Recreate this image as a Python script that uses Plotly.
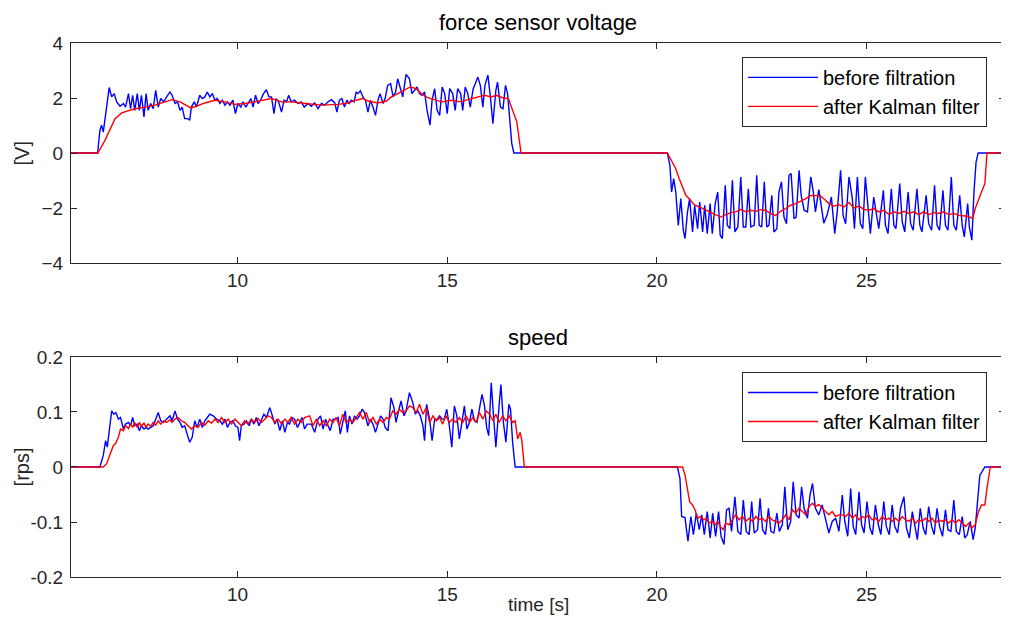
import plotly.graph_objects as go
from plotly.subplots import make_subplots

# ---------------- data ----------------
force_raw_t = [6.03, 6.665, 6.72, 6.76, 6.80, 6.855, 6.94, 7.0, 7.06, 7.12, 7.2, 7.28, 7.33, 7.4, 7.45, 7.5, 7.55, 7.61, 7.66, 7.71, 7.77, 7.82, 7.87, 7.93, 7.99, 8.05, 8.11, 8.17, 8.24, 8.31, 8.39, 8.44, 8.51, 8.57, 8.63, 8.68, 8.74, 8.81, 8.86, 8.90, 8.97, 9.02, 9.10, 9.16, 9.22, 9.28, 9.34, 9.40, 9.46, 9.52, 9.58, 9.64, 9.70, 9.76, 9.82, 9.89, 9.95, 10.01, 10.08, 10.13, 10.20, 10.25, 10.32, 10.37, 10.43, 10.49, 10.55, 10.62, 10.69, 10.75, 10.81, 10.87, 10.92, 10.98, 11.05, 11.11, 11.17, 11.22, 11.28, 11.36, 11.44, 11.52, 11.59,
               11.68, 11.76, 11.84, 11.92, 12.0, 12.08, 12.16, 12.24, 12.32, 12.37, 12.43, 12.49, 12.55, 12.61, 12.66, 12.71, 12.78, 12.83, 12.87, 12.93, 12.99, 13.05, 13.11, 13.17, 13.23, 13.29, 13.35, 13.40, 13.47, 13.52, 13.58, 13.65, 13.71, 13.77, 13.82, 13.89, 13.94, 14.02, 14.10, 14.16, 14.22, 14.28, 14.34, 14.40, 14.46, 14.52, 14.59, 14.64, 14.70, 14.76, 14.82, 14.88, 14.94, 15.0, 15.06, 15.13, 15.19, 15.25, 15.32, 15.37, 15.43, 15.49, 15.55, 15.62, 15.67, 15.73, 15.79, 15.85, 15.90, 15.97, 16.03, 16.09, 16.16, 16.20, 16.27, 16.33, 16.39, 16.44, 16.48, 16.54, 16.59,
               20.25, 20.31, 20.35, 20.4, 20.45, 20.51, 20.57, 20.63, 20.67, 20.73, 20.78, 20.85, 20.90, 20.97, 21.02, 21.09, 21.14, 21.20, 21.27, 21.32, 21.39, 21.45, 21.51, 21.56, 21.63, 21.68, 21.74, 21.80, 21.86, 21.93, 22.0, 22.06, 22.12, 22.18, 22.24, 22.32, 22.38, 22.44, 22.50, 22.56, 22.62, 22.67, 22.74, 22.79, 22.86, 22.91, 22.97, 23.03, 23.09, 23.15, 23.20, 23.27, 23.32, 23.39, 23.44, 23.51, 23.59, 23.67, 23.73, 23.78, 23.86, 23.98, 24.06, 24.16, 24.24, 24.30, 24.38, 24.44, 24.50, 24.58, 24.66, 24.71, 24.78, 24.85, 24.91, 24.97, 25.04, 25.09, 25.17, 25.23, 25.29, 25.40, 25.45, 25.51, 25.59, 25.65, 25.70, 25.79, 25.85, 25.91, 25.99, 26.05, 26.11, 26.20, 26.27, 26.32, 26.42, 26.48, 26.55, 26.62, 26.68, 26.74, 26.82, 26.88, 26.94, 27.02, 27.08, 27.14, 27.22, 27.28, 27.33, 27.41, 27.45, 27.51, 27.56, 27.61, 27.66, 28.3]
force_raw_v = [0, 0, 0.83, 1.01, 0.76, 1.43, 2.38, 2.04, 2.16, 1.86, 1.70, 1.80, 1.67, 2.16, 1.61, 2.10, 1.55, 2.16, 1.55, 2.10, 1.31, 2.16, 1.55, 1.80, 1.61, 2.28, 1.67, 1.98, 1.86, 2.04, 2.22, 2.10, 1.80, 1.86, 1.55, 1.67, 1.25, 1.25, 1.19, 1.67, 1.86, 1.67, 2.10, 1.98, 2.04, 2.22, 2.04, 2.16, 1.92, 1.98, 1.80, 1.92, 1.74, 1.86, 1.74, 1.92, 1.43, 1.80, 1.67, 1.86, 1.67, 1.80, 1.98, 1.67, 2.10, 1.80, 1.92, 2.16, 2.30, 2.04, 2.04, 1.43, 1.98, 1.86, 1.49, 1.92, 1.86, 2.10, 1.86, 1.92, 1.80, 1.86, 1.67,
               1.80, 1.70, 1.82, 1.61, 1.80, 1.74, 1.86, 1.94, 1.82, 1.49, 1.92, 1.98, 1.67, 1.92, 1.80, 1.92, 1.86, 2.22, 2.16, 2.26, 2.04, 1.92, 1.49, 1.92, 1.67, 1.37, 1.92, 2.16, 1.80, 1.98, 2.46, 2.52, 2.04, 2.22, 2.70, 2.34, 2.04, 2.86, 2.70, 2.16, 2.28, 2.40, 2.16, 2.10, 2.22, 1.55, 1.01, 1.92, 2.34, 1.55, 1.37, 2.40, 2.16, 1.43, 2.34, 2.16, 1.55, 2.34, 2.16, 1.55, 2.40, 2.16, 1.67, 2.34, 2.52, 2.76, 2.46, 1.67, 2.46, 2.83, 2.04, 1.07, 2.28, 2.58, 1.67, 1.61, 2.46, 2.16, 1.43, 0.34, 0,
               0, -0.45, -1.42, -0.93, -1.42, -2.63, -1.66, -2.81, -3.11, -2.14, -1.66, -2.87, -1.90, -2.75, -1.78, -2.87, -1.90, -2.93, -1.84, -2.93, -1.84, -1.42, -2.99, -3.11, -1.17, -2.63, -2.75, -0.99, -2.87, -2.69, -0.87, -2.69, -2.69, -1.30, -2.69, -2.63, -0.81, -2.63, -2.69, -1.05, -2.69, -2.63, -1.54, -2.87, -2.75, -1.42, -1.05, -2.33, -2.57, -0.81, -0.75, -2.39, -2.33, -0.63, -1.54, -2.08, -2.14, -0.87, -1.42, -2.14, -1.33, -2.55, -2.25, -1.60, -2.93, -2.14, -0.63, -2.27, -2.57, -0.87, -1.66, -2.75, -0.87, -2.57, -2.75, -0.87, -2.14, -2.93, -1.60, -2.27, -2.75, -1.36, -2.63, -2.93, -1.30, -2.63, -2.75, -1.11, -2.51, -2.87, -1.42, -2.57, -2.81, -1.30, -2.63, -2.87, -1.54, -2.57, -2.81, -1.17, -2.63, -2.81, -1.36, -2.63, -2.81, -0.87, -2.63, -2.81, -1.54, -2.63, -3.05, -1.84, -2.69, -3.17, -1.42, -0.33, 0, 0]

force_kf_t = [6.03, 6.67, 6.84, 6.96, 7.08, 7.24, 7.4, 7.55, 7.79, 8.03, 8.27, 8.44, 8.63, 8.78, 8.89, 9.02, 9.22, 9.46, 9.70, 9.93, 10.17, 10.41, 10.65, 10.81, 11.05, 11.28, 11.52, 12.0, 12.4, 12.63, 12.83, 12.99, 13.11, 13.35, 13.55, 13.67, 13.82, 13.98, 14.12, 14.26, 14.38, 14.54, 14.70, 14.86, 15.09, 15.33, 15.49, 15.69, 15.89, 16.05, 16.17, 16.32, 16.46, 16.56, 16.66, 16.72, 16.76,
              20.25, 20.37, 20.45, 20.53, 20.61, 20.69, 20.77, 20.89, 21.01, 21.13, 21.24, 21.40, 21.52, 21.64, 21.76, 21.88, 22.0, 22.12, 22.24, 22.36, 22.47, 22.59, 22.71, 22.83, 22.95, 23.07, 23.19, 23.31, 23.43, 23.55, 23.67, 23.78, 23.90, 24.02, 24.10, 24.22, 24.34, 24.46, 24.58, 24.70, 24.82, 24.93, 25.05, 25.17, 25.29, 25.41, 25.53, 25.65, 25.77, 25.89, 26.01, 26.13, 26.24, 26.36, 26.48, 26.60, 26.72, 26.84, 26.96, 27.08, 27.20, 27.36, 27.47, 27.53, 27.59, 27.71, 27.82, 27.87, 28.3]
force_kf_v = [0, 0, 0.46, 0.83, 1.25, 1.46, 1.55, 1.61, 1.67, 1.74, 1.86, 1.94, 1.86, 1.74, 1.64, 1.70, 1.82, 1.92, 1.86, 1.77, 1.80, 1.86, 1.94, 1.98, 1.86, 1.86, 1.82, 1.74, 1.77, 1.82, 1.92, 1.98, 1.89, 1.82, 1.89, 2.04, 2.16, 2.28, 2.40, 2.34, 2.16, 2.01, 1.94, 1.86, 1.92, 1.86, 1.94, 2.01, 2.10, 2.04, 2.10, 2.01, 1.98, 1.55, 1.13, 0.46, 0,
              0, -0.33, -0.57, -0.93, -1.24, -1.54, -1.66, -1.88, -1.96, -2.05, -2.14, -2.27, -2.33, -2.24, -2.17, -2.14, -2.05, -2.14, -2.08, -2.12, -2.06, -2.08, -2.20, -2.27, -2.12, -2.02, -1.90, -1.84, -1.76, -1.66, -1.54, -1.56, -1.56, -1.72, -1.84, -1.93, -1.88, -1.96, -1.80, -2.0, -1.93, -2.05, -2.08, -2.02, -2.14, -2.08, -2.23, -2.14, -2.20, -2.12, -2.20, -2.14, -2.24, -2.14, -2.24, -2.17, -2.20, -2.14, -2.24, -2.20, -2.27, -2.29, -2.33, -2.39, -2.02, -1.54, -1.11, 0, 0]

speed_raw_t = [6.03, 6.72, 6.80, 6.855, 6.895, 6.935, 7.0, 7.05, 7.10, 7.16, 7.21, 7.28, 7.33, 7.40, 7.45, 7.50, 7.55, 7.61, 7.66, 7.71, 7.77, 7.82, 7.87, 7.93, 7.99, 8.05, 8.11, 8.17, 8.24, 8.31, 8.39, 8.44, 8.51, 8.57, 8.63, 8.68, 8.74, 8.81, 8.86, 8.92, 8.98, 9.04, 9.10, 9.16, 9.22, 9.28, 9.34, 9.42, 9.50, 9.58, 9.64, 9.70, 9.76, 9.82, 9.89, 9.95, 10.01, 10.05, 10.09, 10.16, 10.21, 10.28, 10.33, 10.39, 10.45, 10.51, 10.57, 10.63, 10.69, 10.77, 10.82, 10.89, 10.94, 11.01, 11.07, 11.13, 11.19, 11.24, 11.30, 11.36, 11.43, 11.48, 11.54, 11.60, 11.66,
               11.76, 11.84, 11.92, 11.98, 12.04, 12.10, 12.16, 12.21, 12.28, 12.34, 12.40, 12.45, 12.51, 12.57, 12.62, 12.67, 12.73, 12.79, 12.85, 12.91, 12.97, 13.03, 13.11, 13.17, 13.23, 13.29, 13.35, 13.41, 13.47, 13.52, 13.59, 13.66, 13.73, 13.78, 13.85, 13.90, 13.97, 14.02, 14.10, 14.18, 14.24, 14.30, 14.36, 14.42, 14.46, 14.51, 14.58, 14.64, 14.70, 14.76, 14.82, 14.88, 14.93, 14.99, 15.05, 15.11, 15.17, 15.23, 15.29, 15.35, 15.41, 15.47, 15.53, 15.59, 15.65, 15.71, 15.77, 15.83, 15.89, 15.94, 15.99, 16.05, 16.11, 16.16, 16.23, 16.28, 16.34, 16.40, 16.47, 16.51, 16.56, 16.62,
               20.49, 20.55, 20.59, 20.67, 20.74, 20.81, 20.87, 20.94, 21.01, 21.07, 21.13, 21.20, 21.27, 21.33, 21.40, 21.47, 21.53, 21.60, 21.66, 21.72, 21.78, 21.86, 21.93, 22.0, 22.06, 22.13, 22.20, 22.26, 22.32, 22.40, 22.46, 22.52, 22.59, 22.66, 22.72, 22.79, 22.86, 22.92, 22.99, 23.05, 23.12, 23.19, 23.25, 23.32, 23.39, 23.45, 23.51, 23.59, 23.65, 23.71, 23.78, 23.86, 23.94, 24.02, 24.10, 24.18, 24.26, 24.34, 24.42, 24.48, 24.55, 24.62, 24.68, 24.74, 24.82, 24.88, 24.94, 25.01, 25.08, 25.14, 25.21, 25.28, 25.34, 25.41, 25.47, 25.54, 25.61, 25.67, 25.74, 25.81, 25.89, 25.95, 26.02, 26.09, 26.15, 26.21, 26.28, 26.35, 26.41, 26.48, 26.55, 26.61, 26.68, 26.74, 26.81, 26.88, 26.94, 27.01, 27.08, 27.14, 27.21, 27.28, 27.34, 27.40, 27.47, 27.54, 27.59, 27.66, 27.70, 27.75, 27.82, 28.3]
speed_raw_v = [0, 0, 0.021, 0.048, 0.036, 0.066, 0.102, 0.096, 0.099, 0.087, 0.090, 0.069, 0.078, 0.081, 0.075, 0.090, 0.075, 0.078, 0.066, 0.075, 0.069, 0.072, 0.069, 0.072, 0.075, 0.087, 0.099, 0.084, 0.081, 0.087, 0.093, 0.084, 0.102, 0.087, 0.081, 0.072, 0.075, 0.057, 0.045, 0.054, 0.084, 0.072, 0.087, 0.072, 0.084, 0.090, 0.096, 0.093, 0.087, 0.084, 0.078, 0.087, 0.072, 0.081, 0.084, 0.075, 0.072, 0.048, 0.075, 0.078, 0.084, 0.075, 0.087, 0.078, 0.090, 0.075, 0.087, 0.096, 0.090, 0.108, 0.096, 0.078, 0.087, 0.066, 0.084, 0.063, 0.081, 0.078, 0.090, 0.087, 0.072, 0.081, 0.090, 0.069, 0.078,
               0.078, 0.063, 0.087, 0.093, 0.069, 0.087, 0.075, 0.066, 0.087, 0.087, 0.090, 0.060, 0.081, 0.102, 0.063, 0.093, 0.078, 0.093, 0.087, 0.093, 0.105, 0.099, 0.075, 0.087, 0.078, 0.063, 0.078, 0.093, 0.087, 0.072, 0.066, 0.126, 0.108, 0.081, 0.105, 0.120, 0.093, 0.102, 0.135, 0.117, 0.096, 0.102, 0.093, 0.075, 0.048, 0.114, 0.087, 0.048, 0.087, 0.087, 0.093, 0.087, 0.087, 0.105, 0.075, 0.036, 0.111, 0.093, 0.051, 0.084, 0.111, 0.069, 0.081, 0.105, 0.084, 0.081, 0.105, 0.132, 0.111, 0.072, 0.057, 0.153, 0.087, 0.036, 0.105, 0.150, 0.081, 0.045, 0.114, 0.105, 0.045, 0,
               0, -0.021, -0.090, -0.092, -0.135, -0.090, -0.123, -0.084, -0.114, -0.087, -0.123, -0.081, -0.129, -0.084, -0.126, -0.081, -0.126, -0.141, -0.078, -0.075, -0.117, -0.054, -0.117, -0.123, -0.060, -0.117, -0.123, -0.063, -0.120, -0.114, -0.057, -0.114, -0.123, -0.075, -0.117, -0.120, -0.084, -0.117, -0.105, -0.036, -0.114, -0.099, -0.027, -0.087, -0.093, -0.036, -0.075, -0.093, -0.051, -0.030, -0.075, -0.087, -0.069, -0.093, -0.120, -0.099, -0.093, -0.117, -0.051, -0.099, -0.126, -0.039, -0.108, -0.123, -0.045, -0.105, -0.120, -0.063, -0.111, -0.123, -0.069, -0.105, -0.123, -0.063, -0.108, -0.123, -0.069, -0.108, -0.120, -0.075, -0.054, -0.111, -0.129, -0.081, -0.108, -0.132, -0.075, -0.111, -0.123, -0.072, -0.108, -0.123, -0.075, -0.108, -0.126, -0.078, -0.114, -0.117, -0.060, -0.117, -0.123, -0.090, -0.129, -0.123, -0.099, -0.132, -0.111, -0.057, -0.015, -0.009, 0, 0]

speed_kf_t = [6.03, 6.80, 6.88, 6.96, 7.04, 7.09, 7.16, 7.21, 7.28, 7.33, 7.40, 7.45, 7.50, 7.55, 7.61, 7.66, 7.71, 7.77, 7.82, 7.87, 7.93, 7.99, 8.05, 8.11, 8.17, 8.24, 8.31, 8.39, 8.44, 8.51, 8.59, 8.66, 8.74, 8.82, 8.90, 8.98, 9.06, 9.14, 9.22, 9.30, 9.38, 9.46, 9.54, 9.62, 9.70, 9.78, 9.86, 9.94, 10.01, 10.09, 10.17, 10.25, 10.33, 10.41, 10.49, 10.57, 10.65, 10.73, 10.81, 10.89, 10.97, 11.05, 11.13, 11.20, 11.28, 11.36, 11.44, 11.52, 11.60,
              11.72, 11.80, 11.88, 11.96, 12.04, 12.12, 12.20, 12.28, 12.35, 12.43, 12.51, 12.59, 12.67, 12.75, 12.83, 12.91, 12.99, 13.07, 13.15, 13.23, 13.31, 13.39, 13.47, 13.55, 13.62, 13.70, 13.78, 13.86, 13.94, 14.02, 14.10, 14.18, 14.26, 14.34, 14.42, 14.50, 14.58, 14.66, 14.74, 14.82, 14.89, 14.97, 15.05, 15.13, 15.21, 15.29, 15.37, 15.45, 15.53, 15.61, 15.69, 15.77, 15.85, 15.93, 16.01, 16.09, 16.16, 16.24, 16.32, 16.40, 16.48, 16.56, 16.62, 16.68, 16.74, 16.78, 16.84,
              20.61, 20.67, 20.73, 20.78, 20.85, 20.91, 20.97, 21.05, 21.11, 21.18, 21.24, 21.32, 21.39, 21.45, 21.51, 21.58, 21.64, 21.72, 21.80, 21.88, 21.96, 22.04, 22.12, 22.20, 22.28, 22.36, 22.43, 22.51, 22.59, 22.67, 22.75, 22.83, 22.91, 22.99, 23.07, 23.15, 23.23, 23.31, 23.39, 23.47, 23.55, 23.63, 23.71, 23.78, 23.86, 23.94, 24.02, 24.10, 24.18, 24.26, 24.34, 24.42, 24.50, 24.58, 24.66, 24.74, 24.82, 24.90, 24.97, 25.05, 25.13, 25.21, 25.29, 25.37, 25.45, 25.53, 25.61, 25.69, 25.77, 25.85, 25.93, 26.01, 26.09, 26.17, 26.24, 26.32, 26.40, 26.48, 26.56, 26.64, 26.72, 26.80, 26.88, 26.96, 27.04, 27.12, 27.20, 27.28, 27.36, 27.44, 27.51, 27.59, 27.67, 27.74, 27.82, 27.87, 27.95, 28.3]
speed_kf_v = [0, 0, 0.006, 0.021, 0.039, 0.042, 0.054, 0.069, 0.066, 0.075, 0.070, 0.078, 0.072, 0.081, 0.072, 0.081, 0.074, 0.080, 0.072, 0.078, 0.074, 0.081, 0.076, 0.084, 0.078, 0.084, 0.081, 0.086, 0.081, 0.087, 0.090, 0.084, 0.081, 0.075, 0.069, 0.075, 0.072, 0.081, 0.076, 0.084, 0.080, 0.087, 0.081, 0.090, 0.081, 0.087, 0.078, 0.087, 0.081, 0.075, 0.084, 0.078, 0.087, 0.081, 0.088, 0.081, 0.087, 0.093, 0.090, 0.081, 0.087, 0.078, 0.087, 0.081, 0.090, 0.078, 0.087, 0.081, 0.090,
              0.093, 0.075, 0.087, 0.075, 0.084, 0.075, 0.087, 0.081, 0.090, 0.075, 0.096, 0.081, 0.087, 0.081, 0.090, 0.099, 0.087, 0.099, 0.081, 0.090, 0.078, 0.087, 0.081, 0.090, 0.087, 0.102, 0.096, 0.105, 0.099, 0.102, 0.111, 0.108, 0.099, 0.114, 0.096, 0.108, 0.081, 0.093, 0.084, 0.090, 0.078, 0.093, 0.081, 0.087, 0.081, 0.090, 0.081, 0.093, 0.081, 0.090, 0.081, 0.099, 0.087, 0.102, 0.096, 0.084, 0.096, 0.081, 0.093, 0.084, 0.093, 0.081, 0.084, 0.051, 0.063, 0.048, 0,
              0, -0.014, -0.045, -0.063, -0.069, -0.078, -0.093, -0.090, -0.096, -0.093, -0.102, -0.099, -0.105, -0.099, -0.108, -0.114, -0.102, -0.105, -0.096, -0.087, -0.096, -0.090, -0.099, -0.093, -0.099, -0.090, -0.096, -0.093, -0.099, -0.090, -0.096, -0.099, -0.102, -0.096, -0.087, -0.096, -0.078, -0.084, -0.075, -0.081, -0.087, -0.072, -0.066, -0.072, -0.068, -0.075, -0.081, -0.087, -0.081, -0.090, -0.087, -0.087, -0.090, -0.084, -0.093, -0.087, -0.096, -0.090, -0.093, -0.087, -0.096, -0.093, -0.099, -0.090, -0.096, -0.093, -0.099, -0.093, -0.099, -0.090, -0.096, -0.099, -0.093, -0.102, -0.096, -0.099, -0.093, -0.099, -0.093, -0.102, -0.096, -0.099, -0.096, -0.102, -0.096, -0.102, -0.096, -0.102, -0.108, -0.102, -0.111, -0.105, -0.081, -0.069, -0.069, -0.039, 0, 0]

x_ticks = [10, 15, 20, 25]
force_ticks = [-4, -2, 0, 2, 4]
speed_ticks = [-0.2, -0.1, 0, 0.1, 0.2]
speed_tick_text = ["-0.2", "-0.1", "0", "0.1", "0.2"]

# ---------------- figure ----------------
FONT = "Liberation Sans, Arial, Helvetica, sans-serif"
AX = "#262626"
BLUE = "#0000ff"
RED = "#ff0000"

fig = make_subplots(rows=2, cols=1)

fig.add_trace(go.Scatter(x=force_raw_t, y=force_raw_v, mode="lines", name="before filtration",
                         line=dict(color=BLUE, width=1.4), legend="legend"), row=1, col=1)
fig.add_trace(go.Scatter(x=force_kf_t, y=force_kf_v, mode="lines", name="after Kalman filter",
                         line=dict(color=RED, width=1.4), legend="legend"), row=1, col=1)
fig.add_trace(go.Scatter(x=speed_raw_t, y=speed_raw_v, mode="lines", name="before filtration",
                         line=dict(color=BLUE, width=1.4), legend="legend2"), row=2, col=1)
fig.add_trace(go.Scatter(x=speed_kf_t, y=speed_kf_v, mode="lines", name="after Kalman filter",
                         line=dict(color=RED, width=1.4), legend="legend2"), row=2, col=1)

axis_common = dict(showgrid=False, zeroline=False, showline=True, linecolor=AX, linewidth=1,
                   mirror="ticks", ticks="inside", ticklen=6, tickcolor=AX, tickwidth=1,
                   tickfont=dict(family=FONT, size=19, color=AX))

fig.update_xaxes(range=[6.03, 28.3], tickvals=x_ticks, ticklabelstandoff=0, **axis_common)
fig.update_yaxes(**axis_common)
fig.update_yaxes(range=[-4, 4], tickvals=force_ticks, domain=[0.588, 1.0], ticklabelstandoff=3, row=1, col=1)
fig.update_yaxes(range=[-0.2, 0.2], tickvals=speed_ticks, ticktext=speed_tick_text,
                 domain=[0.0, 0.412], ticklabelstandoff=3, row=2, col=1)

legend_common = dict(bgcolor="white", bordercolor=AX, borderwidth=1, xanchor="right", yanchor="top",
                     font=dict(family=FONT, size=20, color="#000000"), itemwidth=70,
                     tracegroupgap=0)

# the page body has an 8px margin, so the figure is sized/margined to place the
# plot areas at the reference pixel positions
fig.update_layout(
    width=1001, height=622,
    margin=dict(l=63, r=4, t=35, b=53),
    paper_bgcolor="white", plot_bgcolor="white",
    showlegend=True,
    legend=dict(x=0.9807, y=0.974, **legend_common),
    legend2=dict(x=0.9807, y=0.384, **legend_common),
    annotations=[
        dict(text="force sensor voltage", x=0.5, y=1.039, xref="paper", yref="paper",
             showarrow=False, xanchor="center", yanchor="middle",
             font=dict(family=FONT, size=22, color="#000000")),
        dict(text="speed", x=0.5, y=0.449, xref="paper", yref="paper",
             showarrow=False, xanchor="center", yanchor="middle",
             font=dict(family=FONT, size=22, color="#000000")),
        dict(text="[V]", x=-0.052, y=0.794, xref="paper", yref="paper", textangle=-90,
             showarrow=False, xanchor="center", yanchor="middle",
             font=dict(family=FONT, size=20, color=AX)),
        dict(text="[rps]", x=-0.052, y=0.206, xref="paper", yref="paper", textangle=-90,
             showarrow=False, xanchor="center", yanchor="middle",
             font=dict(family=FONT, size=20, color=AX)),
        dict(text="time [s]", x=0.5, y=-0.052, xref="paper", yref="paper",
             showarrow=False, xanchor="center", yanchor="middle",
             font=dict(family=FONT, size=19, color=AX)),
    ],
)

fig.write_html("out.html")
